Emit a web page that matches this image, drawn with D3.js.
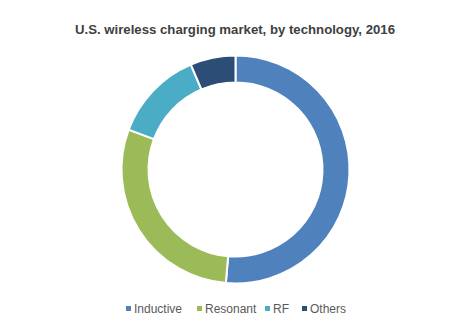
<!DOCTYPE html>
<html><head><meta charset="utf-8">
<script src="https://cdn.jsdelivr.net/npm/d3@7/dist/d3.min.js"></script>
<style>body{margin:0;background:#fff}svg{display:block}</style>
</head><body>
<svg id="c" width="449" height="326"></svg>
<script>
const categories = ["Inductive", "Resonant", "RF", "Others"];
const values = [51.3, 29.3, 12.9, 6.4];
const colors = ["#4f81bd", "#9bbb59", "#4bacc6", "#2c4d75"];
const title = "U.S. wireless charging market, by technology, 2016";

const svg = d3.select("#c");
const cx = 235.5, cy = 169.5, rOuter = 114, rInner = 87;

svg.append("text")
  .attr("x", 235).attr("y", 34)
  .attr("text-anchor", "middle")
  .attr("font-family", "Liberation Sans, Arial, sans-serif")
  .attr("font-weight", "bold")
  .attr("font-size", 13.2)
  .attr("fill", "#404040")
  .text(title);

const pie = d3.pie().sort(null).value(d => d)(values);
const arc = d3.arc().innerRadius(rInner).outerRadius(rOuter);
const g = svg.append("g").attr("transform", `translate(${cx},${cy})`);
g.selectAll("path").data(pie).join("path")
  .attr("d", arc)
  .attr("fill", (d, i) => colors[i])
  .attr("stroke", "#fff")
  .attr("stroke-width", 2);

const legendX = [126, 197, 265, 302];
const lg = svg.append("g");
categories.forEach((c, i) => {
  lg.append("rect").attr("x", legendX[i]).attr("y", 306).attr("width", 5).attr("height", 5).attr("fill", colors[i]);
  lg.append("text").attr("x", legendX[i] + 8).attr("y", 313)
    .attr("font-family", "Liberation Sans, Arial, sans-serif")
    .attr("font-size", 12).attr("fill", "#595959").text(c);
});
</script>
</body></html>
